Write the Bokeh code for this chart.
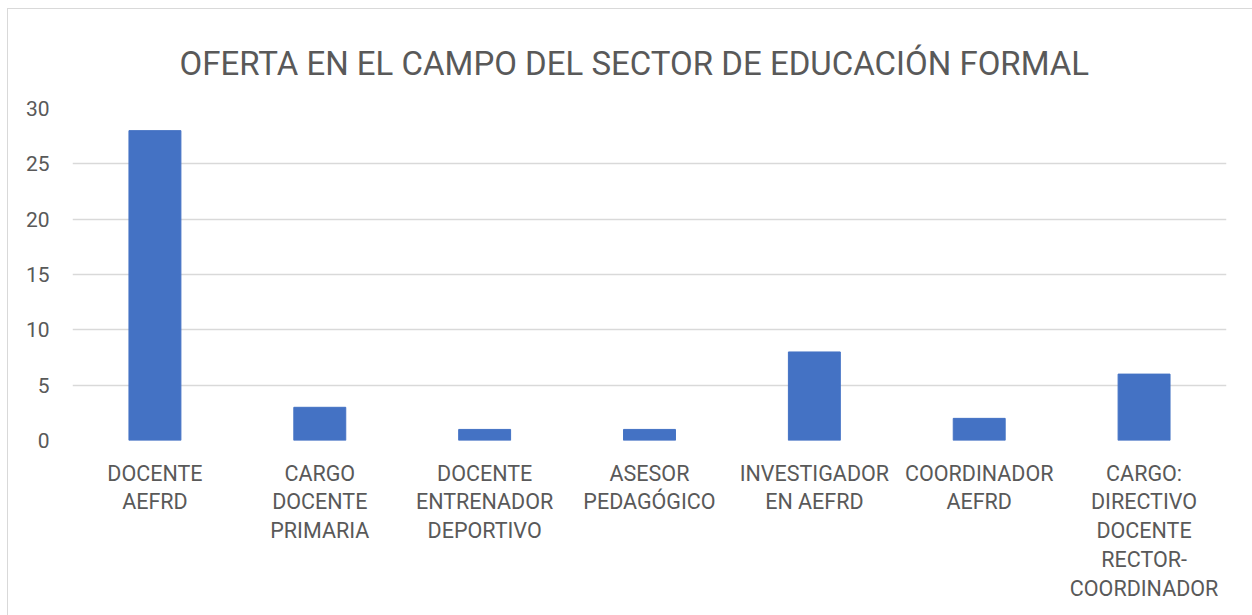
from bokeh.plotting import figure
from bokeh.models import ColumnDataSource, Range1d, FixedTicker
from bokeh.embed import file_html
from bokeh.resources import INLINE

title_text = "OFERTA EN EL CAMPO DEL SECTOR DE EDUCACIÓN FORMAL"
categories = ["DOCENTE\nAEFRD", "CARGO\nDOCENTE\nPRIMARIA", "DOCENTE\nENTRENADOR\nDEPORTIVO",
              "ASESOR\nPEDAGÓGICO", "INVESTIGADOR\nEN AEFRD", "COORDINADOR\nAEFRD",
              "CARGO:\nDIRECTIVO\nDOCENTE\nRECTOR-\nCOORDINADOR"]
values = [28, 3, 1, 1, 8, 2, 6]
y_ticks = [0, 5, 10, 15, 20, 25, 30]

FONT = "Roboto"
TXT = "#595959"

src = ColumnDataSource(dict(cat=categories, val=values))

p = figure(x_range=categories, y_range=Range1d(0, 30), width=1245, height=607,
           output_backend="svg", toolbar_location=None,
           min_border_left=64, min_border_right=27, min_border_top=99, min_border_bottom=176)
p.styles = {"margin-left": "7px", "margin-top": "8px",
            "border-left": "1px solid #d9d9d9", "border-top": "1px solid #d9d9d9"}

p.vbar(x="cat", top="val", width=0.315, source=src, color="#4472C4")

p.title.text = title_text
p.title.align = "left"
p.title.offset = 107
p.title.text_font = FONT
p.title.text_font_size = "33px"
p.title.text_font_style = "normal"
p.title.text_color = TXT
p.title.standoff = 52

p.outline_line_color = None
p.xgrid.grid_line_color = None
p.ygrid.grid_line_color = "#d9d9d9"
p.ygrid.grid_line_width = 1.5

p.yaxis.ticker = FixedTicker(ticks=y_ticks)
p.yaxis.axis_line_color = None
p.yaxis.major_tick_line_color = None
p.yaxis.minor_tick_line_color = None
p.yaxis.major_label_text_font = FONT
p.yaxis.major_label_text_font_size = "21px"
p.yaxis.major_label_text_color = TXT
p.yaxis.major_label_standoff = 17

p.xaxis.axis_line_color = None
p.xaxis.major_tick_line_color = None
p.xaxis.major_label_text_font = FONT
p.xaxis.major_label_text_font_size = "21.5px"
p.xaxis.major_label_text_color = TXT
p.xaxis.major_label_text_line_height = 1.15
p.xaxis.major_label_standoff = 14

open("out.html", "w").write(file_html(p, INLINE))
